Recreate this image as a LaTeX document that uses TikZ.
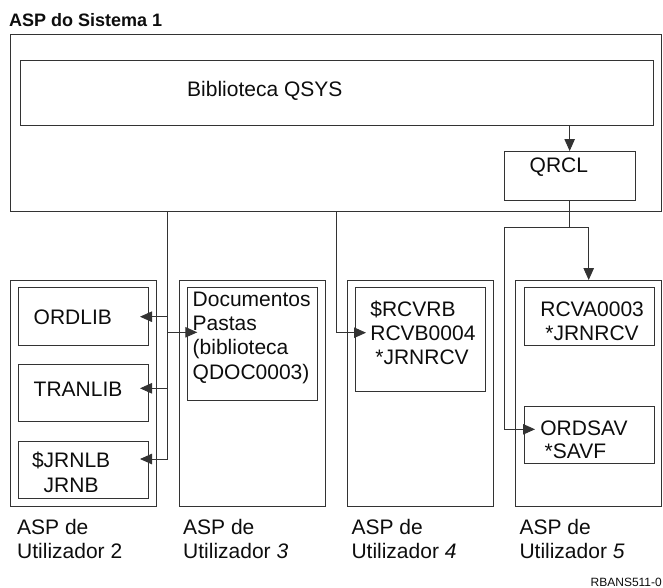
\documentclass[tikz,border=0pt]{standalone}
\usepackage{fontspec}
\setmainfont{Liberation Sans}
\usetikzlibrary{arrows.meta,calc}
\newcommand\mybox[5]{\node[frame, minimum width=#4pt, minimum height=#5pt] (#1) at (#2,#3) {};}
\begin{document}
\begin{tikzpicture}[x=1pt,y=-1pt,
  frame/.style={draw=black!80, line width=0.9pt, inner sep=0pt, outer sep=0pt, anchor=north west},
  txt/.style={inner sep=0pt, anchor=base west, font=\fontsize{21}{24.3}\selectfont, text=black!95},
  wire/.style={draw=black!80, line width=0.9pt},
  arr/.style={wire, -{Triangle[length=12pt,width=10.5pt]}}]
\useasboundingbox (0,0) rectangle (663,587);

% title
\node[inner sep=0pt, anchor=base west, font=\bfseries\fontsize{18}{20}\selectfont, text=black!95] (title) at (9,26.7) {ASP do Sistema 1};

% system ASP
\mybox{sys}{10.7}{34.3}{651.2}{177.4}
\mybox{qsys}{20}{60}{633.3}{65}
\mybox{qrcl}{504.3}{151}{130.7}{49}
\node[txt] (tqsys) at (187,96.7) {Biblioteca QSYS};
\node[txt] (tqrcl) at (529.5,172.7) {QRCL};

% user ASPs
\mybox{asp2}{10.7}{280}{146}{226.7}
\mybox{asp3}{179.3}{280}{145.7}{226.7}
\mybox{asp4}{347.3}{280}{146}{226.7}
\mybox{asp5}{515.7}{280}{146}{226.7}

\mybox{ordlib}{18.3}{287.7}{130.4}{57.3}
\mybox{tranlib}{18.3}{364.3}{130.4}{57.4}
\mybox{jrnlb}{18.3}{441}{130.4}{57.3}
\mybox{docs}{187.3}{287.7}{130}{112.3}
\mybox{rcvrb}{355.7}{287.7}{130}{104}
\mybox{rcva}{524}{287.7}{130}{57.3}
\mybox{ordsav}{524}{406.7}{130}{56.6}

\node[txt] (tordlib) at (33.5,324.4) {ORDLIB};
\node[txt] (ttranlib) at (33.5,396) {TRANLIB};
\node[txt] (tjrnlb) at (31.8,467) {\$JRNLB};
\node[txt] (tjrnb) at (43.5,492.5) {JRNB};
\node[txt, align=left, anchor=north west] (tdocs) at (192.5,291.5) {Documentos\\Pastas\\(biblioteca\\QDOC0003)};
\node[txt] (trcvrb) at (370.2,316.7) {\$RCVRB};
\node[txt] (trcvb) at (370.2,340.5) {RCVB0004};
\node[txt] (tjrn4) at (375.2,364.8) {*JRNRCV};
\node[txt] (trcva) at (540.2,316.7) {RCVA0003};
\node[txt] (tjrn5) at (545.2,340.5) {*JRNRCV};
\node[txt] (tordsav) at (540.2,435) {ORDSAV};
\node[txt] (tsavf) at (544.5,458.5) {*SAVF};

% labels
\node[txt] (l2a) at (17,534) {ASP de};
\node[txt] (l2b) at (17,558.5) {Utilizador 2};
\node[txt] (l3a) at (183,534) {ASP de};
\node[txt] (l3b) at (183,558.5) {Utilizador \textit{3}};
\node[txt] (l4a) at (351.3,534) {ASP de};
\node[txt] (l4b) at (351.3,558.5) {Utilizador \textit{4}};
\node[txt] (l5a) at (519.3,534) {ASP de};
\node[txt] (l5b) at (519.3,558.5) {Utilizador \textit{5}};
\node[inner sep=0pt, anchor=base east, font=\fontsize{12}{14}\selectfont, text=black!95] (fig) at (662,586) {RBANS511-0};

% connectors in system ASP
\draw[arr] (qsys.south -| qrcl.north) -- (qrcl.north);

% bus to ASP 2 and 3
\coordinate (b2top) at (167.7,211.7);
\coordinate (b2bot) at (167.7,459);
\coordinate (t2a) at (167.7,316.7);
\coordinate (t2b) at (167.7,332.3);
\coordinate (t2c) at (167.7,388.3);
\draw[wire] (b2top) -- (b2bot);
\draw[arr] (t2a) -- ([xshift=-8.7pt]ordlib.east |- t2a);
\draw[arr] (t2b) -- ([xshift=10pt]docs.west |- t2b);
\draw[arr] (t2c) -- ([xshift=-8.7pt]tranlib.east |- t2c);
\draw[arr] (b2bot) -- ([xshift=-8.7pt]jrnlb.east |- b2bot);

% bus to ASP 4
\coordinate (b4top) at (336.7,211.7);
\coordinate (b4bot) at (336.7,332.7);
\draw[arr] (b4top) -- (b4bot) -- ([xshift=10.3pt]rcvrb.west |- b4bot);

% from QRCL to ASP 5
\coordinate (jq) at (qrcl.south |- 0,227.3);
\coordinate (jl) at (504.3,227.3);
\coordinate (jd) at (504.3,429.3);
\draw[wire] (qrcl.south) -- (jq);
\draw[arr] (jl) -- (jq -| asp5.north) -- (asp5.north);
\draw[arr] (jl) -- (jd) -- ([xshift=11pt]ordsav.west |- jd);
\end{tikzpicture}
\end{document}
